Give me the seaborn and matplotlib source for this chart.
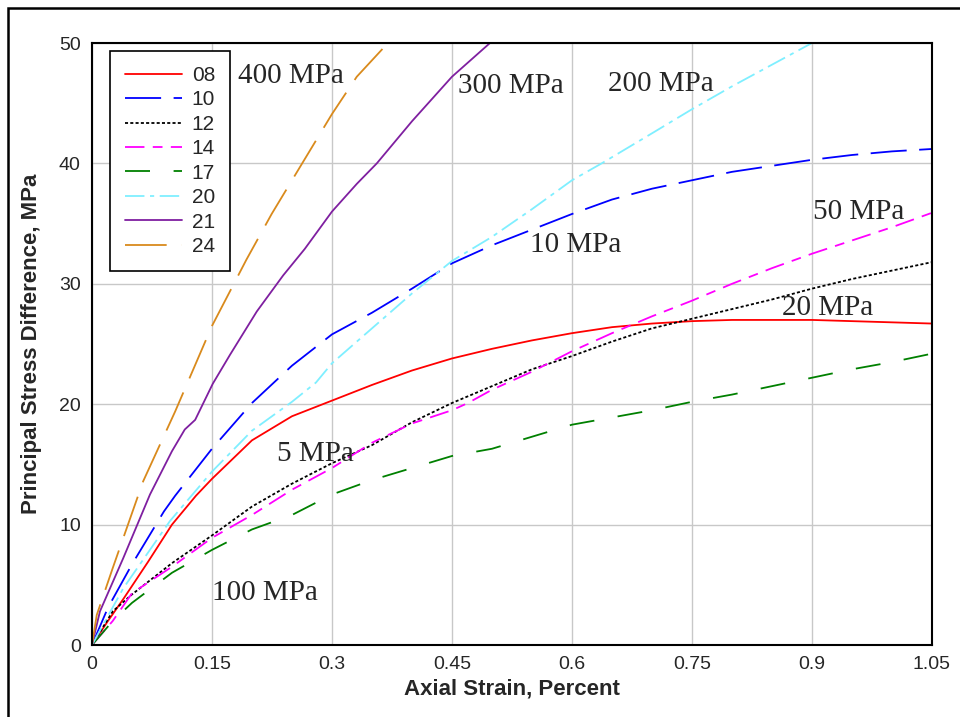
import matplotlib
matplotlib.use("Agg")
import matplotlib.pyplot as plt
import seaborn as sns
import pandas as pd
from matplotlib.patches import Rectangle

# Test curves (axial strain in %, stress difference in MPa)
x08 = [0, 0.02, 0.04, 0.07, 0.1, 0.13, 0.15, 0.2, 0.25, 0.3, 0.35, 0.4, 0.45, 0.5, 0.55, 0.6,
       0.65, 0.7, 0.75, 0.8, 0.85, 0.9, 0.95, 1.0, 1.05]
y08 = [0, 2.0, 3.9, 6.9, 10.0, 12.4, 13.8, 17.0, 19.0, 20.3, 21.6, 22.8, 23.8, 24.6, 25.3, 25.9,
       26.4, 26.7, 26.9, 27.0, 27.0, 27.0, 26.9, 26.8, 26.7]

x10 = [0, 0.02, 0.05, 0.09, 0.104, 0.15, 0.2, 0.25, 0.3, 0.35, 0.4, 0.45, 0.5, 0.55, 0.6, 0.65,
       0.7, 0.75, 0.8, 0.85, 0.9, 0.95, 1.0, 1.05]
y10 = [0, 3.1, 6.7, 11.1, 12.4, 16.3, 20.1, 23.2, 25.8, 27.6, 29.6, 31.7, 33.2, 34.5, 35.8, 37.0,
       37.9, 38.6, 39.3, 39.8, 40.3, 40.7, 41.0, 41.2]

x12 = [0, 0.026, 0.05, 0.1, 0.15, 0.2, 0.25, 0.3, 0.35, 0.4, 0.45, 0.5, 0.55, 0.6, 0.65, 0.7,
       0.75, 0.8, 0.85, 0.9, 0.95, 1.0, 1.05]
y12 = [0, 2.8, 4.2, 6.8, 9.1, 11.5, 13.4, 15.1, 16.6, 18.5, 20.1, 21.5, 22.9, 24.0, 25.2, 26.3,
       27.1, 27.9, 28.7, 29.6, 30.4, 31.1, 31.8]

x14 = [0, 0.026, 0.05, 0.1, 0.15, 0.2, 0.25, 0.3, 0.35, 0.4, 0.45, 0.47, 0.5, 0.55, 0.6, 0.65,
       0.7, 0.75, 0.8, 0.85, 0.9, 0.95, 1.0, 1.05]
y14 = [0, 2.0, 4.3, 6.5, 8.9, 10.8, 12.9, 14.7, 16.8, 18.4, 19.5, 20.1, 21.2, 22.7, 24.4, 25.9,
       27.3, 28.6, 30.0, 31.3, 32.5, 33.6, 34.7, 35.9]

x17 = [0, 0.026, 0.05, 0.1, 0.15, 0.2, 0.25, 0.3, 0.35, 0.4, 0.45, 0.5, 0.55, 0.6, 0.65, 0.7,
       0.75, 0.8, 0.85, 0.9, 0.95, 1.0, 1.05]
y17 = [0, 2.0, 3.5, 6.0, 7.9, 9.6, 10.8, 12.5, 13.7, 14.7, 15.7, 16.3, 17.3, 18.3, 18.9, 19.5,
       20.2, 20.8, 21.5, 22.2, 22.9, 23.5, 24.2]

x20 = [0, 0.039, 0.0975, 0.15, 0.2, 0.25, 0.28, 0.3, 0.35, 0.4, 0.45, 0.5, 0.55, 0.6, 0.637,
       0.7, 0.75, 0.8, 0.85, 0.9]
y20 = [0, 4.7, 10.3, 14.4, 17.8, 20.2, 21.8, 23.4, 26.3, 29.2, 31.9, 33.9, 36.2, 38.6, 40.0,
       42.5, 44.5, 46.4, 48.2, 50.0]

x21 = [0, 0.01, 0.039, 0.0725, 0.1, 0.116, 0.129, 0.151, 0.1725, 0.206, 0.239, 0.266, 0.3,
       0.331, 0.356, 0.4, 0.45, 0.4975]
y21 = [0, 2.8, 7.2, 12.5, 16.1, 17.9, 18.7, 21.7, 24.1, 27.7, 30.7, 32.9, 36.0, 38.3, 40.0,
       43.5, 47.2, 50.0]

x24 = [0, 0.006, 0.026, 0.064, 0.104, 0.15, 0.193, 0.2246, 0.26, 0.3, 0.331, 0.37]
y24 = [0, 2.5, 6.4, 13.6, 19.4, 26.5, 32.0, 35.8, 39.7, 44.1, 47.2, 50.0]

test_ids = ["08", "10", "12", "14", "17", "20", "21", "24"]
strains = [x08, x10, x12, x14, x17, x20, x21, x24]
stresses = [y08, y10, y12, y14, y17, y20, y21, y24]

colors = ["#FF0000", "#0000FF", "#000000", "#FF00FF", "#008000", "#7FEFFF", "#7F1FA0", "#D98A1C"]
dash_styles = ["-", (0, (26, 9)), (0, (2.2, 1.6)), (0, (14, 6, 7, 6)), (0, (18, 17)),
               (0, (14, 4, 3, 4)), "-", (0, (30, 11))]

# pressure labels on the chart
label_text = ["400 MPa", "300 MPa", "200 MPa", "50 MPa", "10 MPa", "20 MPa", "5 MPa", "100 MPa"]
label_x = [0.1825, 0.4575, 0.645, 0.901, 0.5475, 0.8625, 0.231, 0.15]
label_y = [47.3, 46.4, 46.6, 36.0, 33.2, 28.0, 15.9, 4.3]

sns.set_style("white")
plt.rcParams["font.family"] = ["Liberation Sans", "DejaVu Sans"]
plt.rcParams["lines.scale_dashes"] = False

fig = plt.figure(figsize=(9.6, 7.17), dpi=100)
ax = fig.add_axes([0.0958, 0.1004, 0.875, 0.8396])

for tid, xs, ys, c, ls in zip(test_ids, strains, stresses, colors, dash_styles):
    df = pd.DataFrame({"strain": xs, "stress": ys})
    sns.lineplot(data=df, x="strain", y="stress", color=c, linestyle=ls, linewidth=1.3,
                 label=tid, errorbar=None, ax=ax)

ax.set_xlim(0, 1.05)
ax.set_ylim(0, 50)
xticks = [0, 0.15, 0.3, 0.45, 0.6, 0.75, 0.9, 1.05]
ax.set_xticks(xticks)
ax.set_xticklabels(["0", "0.15", "0.3", "0.45", "0.6", "0.75", "0.9", "1.05"])
ax.set_yticks([0, 10, 20, 30, 40, 50])
ax.tick_params(axis="both", length=0, labelsize=14, pad=8)
ax.grid(True, color="#C8C8C8", linewidth=1)
for s in ax.spines.values():
    s.set_color("black")
    s.set_linewidth(1.5)

ax.set_xlabel("Axial Strain, Percent", fontsize=16, fontweight="bold", labelpad=4)
ax.set_ylabel("Principal Stress Difference, MPa", fontsize=16, fontweight="bold", labelpad=12)

for t, lx, ly in zip(label_text, label_x, label_y):
    ax.text(lx, ly, t, fontsize=21, family="Liberation Serif", va="center", ha="left")

leg = ax.legend(loc="upper left", bbox_to_anchor=(0.022, 0.986), borderaxespad=0,
                fontsize=15, handlelength=2.75, labelspacing=0.26, fancybox=False,
                framealpha=1, edgecolor="black", borderpad=0.7, handletextpad=0.45)
leg.get_frame().set_linewidth(1.2)

# outer chart border, running off the right and bottom edges
fig.patches.append(Rectangle((8 / 960, -0.1), 1.2, 1 - 8 / 717 + 0.1, transform=fig.transFigure,
                             fill=False, edgecolor="black", linewidth=1.8))

fig.savefig("out.png", dpi=100)
